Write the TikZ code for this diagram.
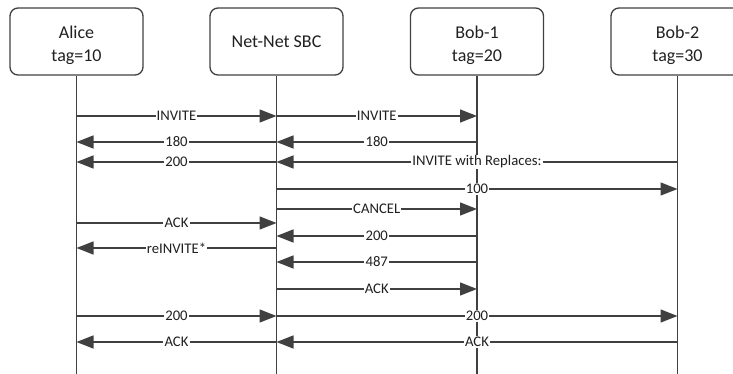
\documentclass[tikz,border=0pt]{standalone}
\usepackage{fontspec}
\setmainfont{Carlito}
\usetikzlibrary{arrows.meta}
\definecolor{linecol}{HTML}{404040}
\definecolor{txtcol}{HTML}{202020}
\tikzset{
  actor/.style={draw=linecol, line width=1.3pt, rounded corners=8pt, minimum width=133pt, minimum height=67pt, align=center, text=txtcol, font=\fontsize{18}{23}\selectfont, inner sep=0pt},
  life/.style={draw=linecol, line width=1.4pt},
  msgline/.style={draw=linecol, line width=1.4pt, -{Triangle[length=17pt,width=13pt]}},
  lbl/.style={fill=white, text=txtcol, inner sep=1.2pt, font=\fontsize{14.7}{16}\selectfont}
}
\newcommand{\msg}[4]{\draw[msgline] (#1.south |- 0,#3) -- node[lbl]{#4} (#2.south |- 0,#3);}
\newcommand{\topstrut}{\rule{0pt}{19.5pt}}
\begin{document}
\begin{tikzpicture}[x=1pt,y=-1pt]
\useasboundingbox (0,0) rectangle (733,374);
\node[actor] (alice) at (76.5,41.5) {\topstrut Alice\\tag=10};
\node[actor] (sbc) at (276.5,41.5) {Net-Net SBC};
\node[actor] (bob1) at (477,41.5) {\topstrut Bob-1\\tag=20};
\node[actor] (bob2) at (677.5,41.5) {\topstrut Bob-2\\tag=30};
\foreach \n in {alice,sbc,bob1,bob2}{
  \draw[life] (\n.south) -- (\n.south |- 0,376);
}
\msg{alice}{sbc}{116}{INVITE}
\msg{sbc}{bob1}{116}{INVITE}
\msg{sbc}{alice}{142}{180}
\msg{bob1}{sbc}{142}{180}
\msg{sbc}{alice}{162}{200}
\msg{bob2}{sbc}{162}{INVITE with Replaces:}
\msg{sbc}{bob2}{189}{100}
\msg{sbc}{bob1}{209}{CANCEL}
\msg{alice}{sbc}{223}{ACK}
\msg{bob1}{sbc}{236}{200}
\msg{sbc}{alice}{248}{reINVITE*}
\msg{bob1}{sbc}{262}{487}
\msg{sbc}{bob1}{289}{ACK}
\msg{alice}{sbc}{316}{200}
\msg{sbc}{bob2}{316}{200}
\msg{sbc}{alice}{342}{ACK}
\msg{bob2}{sbc}{342}{ACK}
\end{tikzpicture}
\end{document}
